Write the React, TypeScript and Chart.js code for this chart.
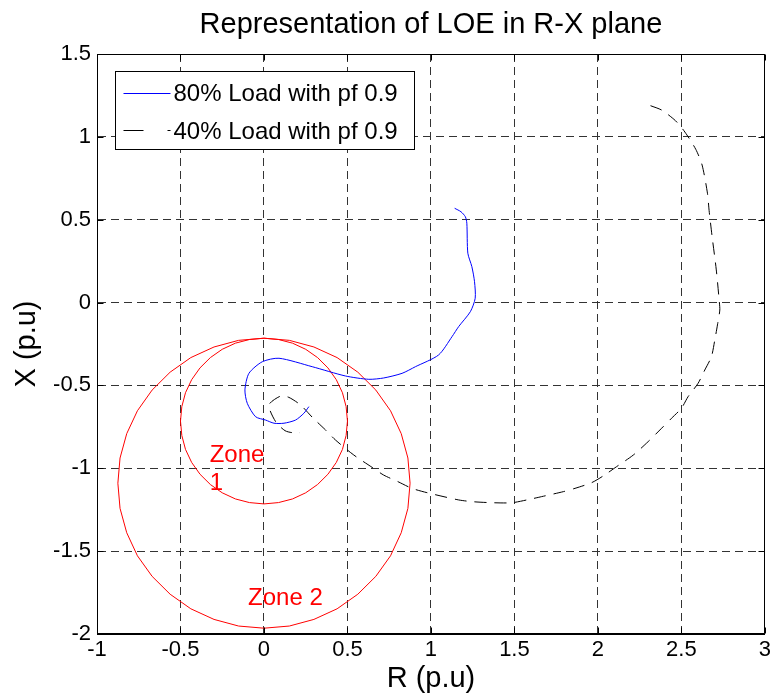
import React, { useEffect, useRef } from 'react';
import { Chart, registerables } from 'chart.js';

Chart.register(...registerables);

const FONT = 'Arial, "Liberation Sans", Helvetica, sans-serif';

const TITLE = 'Representation of LOE in R-X plane';
const X_TITLE = 'R (p.u)';
const Y_TITLE = 'X (p.u)';
const SERIES_LABELS = ['80% Load with pf 0.9', '40% Load with pf 0.9'];

const xTicks = [-1, -0.5, 0, 0.5, 1, 1.5, 2, 2.5, 3];
const yTicks = [-2, -1.5, -1, -0.5, 0, 0.5, 1, 1.5];

// 80% load trajectory (R, X)
const blueR = [1.142, 1.18, 1.206, 1.215, 1.221, 1.245, 1.261, 1.265, 1.236, 1.166, 1.126, 1.046, 0.907, 0.827, 0.717, 0.628, 0.488, 0.289, 0.09, -0.01, -0.09, -0.114, -0.1, -0.05, 0.01, 0.06, 0.12, 0.189, 0.239, 0.269];
const blueX = [0.569, 0.548, 0.518, 0.479, 0.298, 0.217, 0.126, 0.026, -0.055, -0.145, -0.206, -0.316, -0.387, -0.427, -0.455, -0.463, -0.443, -0.387, -0.336, -0.357, -0.427, -0.527, -0.608, -0.689, -0.709, -0.728, -0.728, -0.709, -0.668, -0.628];

// 40% load trajectory (R, X)
const blackR = [2.315, 2.381, 2.464, 2.521, 2.586, 2.624, 2.656, 2.666, 2.684, 2.709, 2.726, 2.73, 2.716, 2.7, 2.68, 2.64, 2.6, 2.54, 2.5, 2.441, 2.371, 2.301, 2.212, 2.112, 2.032, 1.962, 1.863, 1.793, 1.663, 1.574, 1.484, 1.375, 1.255, 1.166, 0.976, 0.886, 0.803, 0.717, 0.647, 0.538, 0.429, 0.369, 0.293, 0.219, 0.149, 0.1, 0.03, 0.07, 0.126, 0.169, 0.215];
const blackX = [1.188, 1.162, 1.098, 1.029, 0.925, 0.83, 0.66, 0.555, 0.398, 0.197, 0.016, -0.045, -0.135, -0.226, -0.326, -0.407, -0.487, -0.568, -0.638, -0.698, -0.769, -0.839, -0.92, -0.99, -1.046, -1.087, -1.121, -1.141, -1.171, -1.191, -1.208, -1.208, -1.202, -1.191, -1.147, -1.121, -1.081, -1.041, -0.994, -0.92, -0.83, -0.769, -0.696, -0.618, -0.572, -0.564, -0.618, -0.719, -0.773, -0.785, -0.785];

// Zone 1 circle (R, X)
const zone1R = [0.5, 0.492, 0.47, 0.433, 0.383, 0.321, 0.25, 0.171, 0.087, 0, -0.087, -0.171, -0.25, -0.321, -0.383, -0.433, -0.47, -0.492, -0.5, -0.492, -0.47, -0.433, -0.383, -0.321, -0.25, -0.171, -0.087, 0, 0.087, 0.171, 0.25, 0.321, 0.383, 0.433, 0.47, 0.492, 0.5];
const zone1X = [-0.715, -0.628, -0.544, -0.465, -0.394, -0.332, -0.282, -0.245, -0.223, -0.215, -0.223, -0.245, -0.282, -0.332, -0.394, -0.465, -0.544, -0.628, -0.715, -0.802, -0.886, -0.965, -1.036, -1.098, -1.148, -1.185, -1.207, -1.215, -1.207, -1.185, -1.148, -1.098, -1.036, -0.965, -0.886, -0.802, -0.715];

// Zone 2 circle (R, X)
const zone2R = [0.875, 0.862, 0.822, 0.758, 0.67, 0.562, 0.438, 0.299, 0.152, 0, -0.152, -0.299, -0.438, -0.562, -0.67, -0.758, -0.822, -0.862, -0.875, -0.862, -0.822, -0.758, -0.67, -0.562, -0.438, -0.299, -0.152, 0, 0.152, 0.299, 0.438, 0.562, 0.67, 0.758, 0.822, 0.862, 0.875];
const zone2X = [-1.09, -0.938, -0.791, -0.653, -0.528, -0.42, -0.332, -0.268, -0.228, -0.215, -0.228, -0.268, -0.332, -0.42, -0.528, -0.653, -0.791, -0.938, -1.09, -1.242, -1.389, -1.528, -1.652, -1.76, -1.848, -1.912, -1.952, -1.965, -1.952, -1.912, -1.848, -1.76, -1.652, -1.528, -1.389, -1.242, -1.09];

// Zone text annotations (left edge R, baseline X)
const zoneText = ['Zone', '1', 'Zone 2'];
const zoneTextR = [-0.325, -0.325, -0.095];
const zoneTextX = [-0.96, -1.131, -1.825];

const toPoints = (xs: number[], ys: number[]) => xs.map((x, i) => ({ x, y: ys[i] }));

const decorPlugin = {
  id: 'decor',
  afterDraw(chart: any) {
    const { ctx, chartArea: a, scales } = chart;
    const xs = scales.x;
    const ys = scales.y;
    ctx.save();
    ctx.setLineDash([]);

    // title
    ctx.fillStyle = '#000';
    ctx.font = `29px ${FONT}`;
    ctx.textAlign = 'center';
    ctx.textBaseline = 'alphabetic';
    ctx.fillText(TITLE, (a.left + a.right) / 2, 33);

    // zone labels
    ctx.fillStyle = '#ff0000';
    ctx.font = `24px ${FONT}`;
    ctx.textAlign = 'left';
    zoneText.forEach((t, i) => {
      ctx.fillText(t, xs.getPixelForValue(zoneTextR[i]), ys.getPixelForValue(zoneTextX[i]));
    });

    // frame + inward ticks
    const L = Math.round(a.left) + 0.5;
    const R = Math.round(a.right) - 0.5;
    const T = Math.round(a.top) + 0.5;
    const B = Math.round(a.bottom) - 0.5;
    ctx.strokeStyle = '#000';
    ctx.lineWidth = 1;
    ctx.beginPath();
    ctx.rect(L, T, R - L, B - T);
    const tl = 6;
    xs.ticks.forEach((t: any) => {
      const p = Math.round(xs.getPixelForValue(t.value)) + 0.5;
      ctx.moveTo(p, B); ctx.lineTo(p, B - tl);
      ctx.moveTo(p, T); ctx.lineTo(p, T + tl);
    });
    ys.ticks.forEach((t: any) => {
      const p = Math.round(ys.getPixelForValue(t.value)) + 0.5;
      ctx.moveTo(L, p); ctx.lineTo(L + tl, p);
      ctx.moveTo(R, p); ctx.lineTo(R - tl, p);
    });
    ctx.stroke();

    // legend
    const lx = L + 18;
    const ly = T + 17;
    const lw = 299;
    const lh = 78;
    ctx.fillStyle = '#fff';
    ctx.fillRect(lx, ly, lw, lh);
    ctx.strokeStyle = '#000';
    ctx.strokeRect(lx, ly, lw, lh);
    const ds = chart.data.datasets;
    const rows = [
      { y: ly + 21, base: ly + 29, dash: [] as number[] },
      { y: ly + 58, base: ly + 67, dash: [20, 24] },
    ];
    rows.forEach((r, i) => {
      ctx.strokeStyle = ds[i].borderColor;
      ctx.setLineDash(r.dash);
      ctx.beginPath();
      ctx.moveTo(lx + 8, Math.round(r.y) + 0.5);
      ctx.lineTo(lx + 55, Math.round(r.y) + 0.5);
      ctx.stroke();
      ctx.setLineDash([]);
      ctx.fillStyle = '#000';
      ctx.font = `24px ${FONT}`;
      ctx.textAlign = 'left';
      ctx.fillText(ds[i].label, lx + 58, r.base);
    });
    ctx.restore();
  },
};

export default function App() {
  const ref = useRef<HTMLCanvasElement | null>(null);

  useEffect(() => {
    if (!ref.current) return;
    const gridOpts = { color: '#333', lineWidth: 1, drawTicks: false };
    const borderOpts = { display: true, color: '#000', width: 1, dash: [8, 5] };
    const chart = new Chart(ref.current, {
      type: 'scatter',
      data: {
        datasets: [
          { label: SERIES_LABELS[0], data: toPoints(blueR, blueX), showLine: true, tension: 0.25, borderColor: '#0000ff', backgroundColor: '#0000ff', borderWidth: 1, pointRadius: 0, fill: false },
          { label: SERIES_LABELS[1], data: toPoints(blackR, blackX), showLine: true, tension: 0.25, borderColor: '#000000', backgroundColor: '#000000', borderWidth: 1, borderDash: [12, 8], pointRadius: 0, fill: false },
          { label: 'Zone 1', data: toPoints(zone1R, zone1X), showLine: true, borderColor: '#ff0000', backgroundColor: '#ff0000', borderWidth: 1, pointRadius: 0, fill: false },
          { label: 'Zone 2', data: toPoints(zone2R, zone2X), showLine: true, borderColor: '#ff0000', backgroundColor: '#ff0000', borderWidth: 1, pointRadius: 0, fill: false },
        ],
      },
      options: {
        responsive: false,
        animation: false,
        devicePixelRatio: 1,
        layout: { padding: { top: 54, right: 7, left: 0, bottom: 0 } },
        plugins: {
          legend: { display: false },
          title: { display: false },
          tooltip: { enabled: false },
        },
        scales: {
          x: {
            type: 'linear',
            position: 'bottom',
            min: -1,
            max: 3,
            afterBuildTicks: (s: any) => { s.ticks = xTicks.map((v) => ({ value: v })); },
            afterFit: (s: any) => { s.height = 62; },
            ticks: { color: '#000', font: { family: FONT, size: 22 }, padding: 3, callback: (v: any) => String(v), maxRotation: 0, autoSkip: false },
            grid: gridOpts,
            border: borderOpts,
            title: { display: true, text: X_TITLE, color: '#000', font: { family: FONT, size: 29 }, padding: { top: 0, bottom: 0 } },
          },
          y: {
            type: 'linear',
            position: 'left',
            min: -2,
            max: 1.5,
            afterBuildTicks: (s: any) => { s.ticks = yTicks.map((v) => ({ value: v })); },
            afterFit: (s: any) => { s.width = 97; },
            ticks: { color: '#000', font: { family: FONT, size: 22 }, padding: 6, callback: (v: any) => String(v), autoSkip: false },
            grid: gridOpts,
            border: borderOpts,
            title: { display: true, text: Y_TITLE, color: '#000', font: { family: FONT, size: 29 }, padding: { top: 10, bottom: 0 } },
          },
        },
      },
      plugins: [decorPlugin],
    } as any);
    return () => chart.destroy();
  }, []);

  return (
    <div style={{ position: 'absolute', left: 0, top: 0, width: 774, height: 696, background: '#fff' }}>
      <canvas ref={ref} width={774} height={696} style={{ display: 'block' }} />
    </div>
  );
}
